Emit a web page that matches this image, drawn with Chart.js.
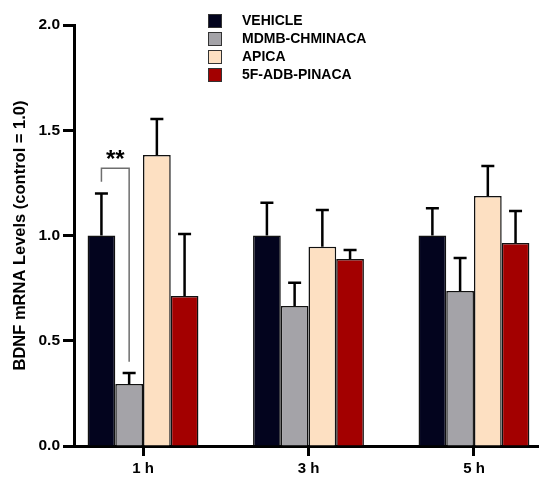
<!DOCTYPE html>
<html>
<head>
<meta charset="utf-8">
<script src="https://cdn.jsdelivr.net/npm/chart.js@4.4.0/dist/chart.umd.min.js"></script>
<style>
    html, body { margin: 0; padding: 0; background: #fff; }
    #wrap { width: 539px; height: 477px; position: relative; }
</style>
</head>
<body>
<div id="wrap"><canvas id="bdnfChart"></canvas></div>
<script>
const timePoints = ['1 h', '3 h', '5 h'];
const groupNames = ['VEHICLE', 'MDMB-CHMINACA', 'APICA', '5F-ADB-PINACA'];

const vehicleMean = [1.0, 1.0, 1.0];
const vehicleSem = [0.20, 0.155, 0.13];
const mdmbMean = [0.295, 0.665, 0.736];
const mdmbSem = [0.052, 0.11, 0.157];
const apicaMean = [1.382, 0.946, 1.188];
const apicaSem = [0.171, 0.175, 0.142];
const pinacaMean = [0.713, 0.888, 0.964];
const pinacaSem = [0.294, 0.043, 0.152];

const yTicks = [0, 0.5, 1.0, 1.5, 2.0];

// ** bracket between VEHICLE and MDMB-CHMINACA at 1 h (y values in data units)
const sigLeftY = 1.255;
const sigTopY = 1.32;
const sigRightY = 0.40;
const sigLabel = '**';

const FONT = "Arial, 'Liberation Sans', sans-serif";

function toPoints(arr) {
    return arr.map((v, i) => ({ x: i, y: v }));
}

const errorBars = {
    id: 'errorBars',
    afterDatasetsDraw(chart) {
        const ctx = chart.ctx;
        const y = chart.scales.y;
        ctx.save();
        ctx.strokeStyle = '#000';
        ctx.lineWidth = 2.5;
        chart.data.datasets.forEach((ds, di) => {
            const meta = chart.getDatasetMeta(di);
            meta.data.forEach((bar, i) => {
                const top = y.getPixelForValue(ds.data[i].y + ds.sem[i]);
                ctx.beginPath();
                ctx.moveTo(bar.x, bar.y);
                ctx.lineTo(bar.x, top);
                ctx.moveTo(bar.x - 6.5, top);
                ctx.lineTo(bar.x + 6.5, top);
                ctx.stroke();
            });
        });
        ctx.restore();
    }
};

const sigBracket = {
    id: 'sigBracket',
    afterDatasetsDraw(chart) {
        const ctx = chart.ctx;
        const y = chart.scales.y;
        const x1 = chart.getDatasetMeta(0).data[0].x;
        const x2 = chart.getDatasetMeta(1).data[0].x;
        const yTop = y.getPixelForValue(sigTopY);
        ctx.save();
        ctx.strokeStyle = '#6e6e6e';
        ctx.lineWidth = 1.5;
        ctx.beginPath();
        ctx.moveTo(x1, y.getPixelForValue(sigLeftY));
        ctx.lineTo(x1, yTop);
        ctx.lineTo(x2, yTop);
        ctx.lineTo(x2, y.getPixelForValue(sigRightY));
        ctx.stroke();
        ctx.fillStyle = '#000';
        ctx.font = 'bold 24px ' + FONT;
        ctx.textAlign = 'center';
        ctx.textBaseline = 'alphabetic';
        ctx.fillText(sigLabel, (x1 + x2) / 2, yTop - 1);
        ctx.restore();
    }
};

const boxLegend = {
    id: 'boxLegend',
    afterDraw(chart) {
        const ctx = chart.ctx;
        ctx.save();
        ctx.font = 'bold 14px ' + FONT;
        ctx.textBaseline = 'middle';
        ctx.textAlign = 'left';
        chart.data.datasets.forEach((ds, i) => {
            const top = 14 + i * 18;
            ctx.fillStyle = ds.backgroundColor;
            ctx.fillRect(208, top, 14, 14);
            ctx.strokeStyle = '#333';
            ctx.lineWidth = 1;
            ctx.strokeRect(208.5, top + 0.5, 13, 13);
            ctx.fillStyle = '#000';
            ctx.fillText(ds.label, 242, top + 7.5);
        });
        ctx.restore();
    }
};

function makeDataset(i, means, sems, color) {
    return {
        label: groupNames[i],
        data: toPoints(means),
        sem: sems,
        backgroundColor: color,
        borderColor: '#111',
        borderWidth: 1.5,
        borderSkipped: 'start',
        categoryPercentage: 0.67,
        barPercentage: 1.0
    };
}

new Chart(document.getElementById('bdnfChart'), {
    type: 'bar',
    data: {
        datasets: [
            makeDataset(0, vehicleMean, vehicleSem, '#03041e'),
            makeDataset(1, mdmbMean, mdmbSem, '#a4a3a8'),
            makeDataset(2, apicaMean, apicaSem, '#fde0c2'),
            makeDataset(3, pinacaMean, pinacaSem, '#a30000')
        ]
    },
    options: {
        responsive: true,
        maintainAspectRatio: false,
        animation: false,
        layout: { padding: { top: 25, right: 0, left: 0, bottom: 0 } },
        plugins: {
            legend: { display: false },
            tooltip: { enabled: false }
        },
        scales: {
            x: {
                type: 'linear',
                offset: false,
                min: -0.417,
                max: 2.393,
                afterBuildTicks: s => { s.ticks = timePoints.map((t, i) => ({ value: i })); },
                afterFit: s => { s.height = 31; },
                ticks: {
                    callback: (v) => timePoints[v],
                    color: '#000',
                    font: { family: FONT, size: 15, weight: 'bold' },
                    padding: 4,
                    maxRotation: 0
                },
                grid: {
                    offset: false,
                    drawOnChartArea: false,
                    drawTicks: true,
                    tickLength: 10,
                    tickWidth: 3,
                    tickColor: '#000'
                },
                border: { color: '#000', width: 3 }
            },
            y: {
                min: 0,
                max: 2,
                afterBuildTicks: s => { s.ticks = yTicks.map(v => ({ value: v })); },
                afterFit: s => { s.width = 74; },
                ticks: {
                    callback: v => v.toFixed(1),
                    color: '#000',
                    font: { family: FONT, size: 15.5, weight: 'bold' },
                    padding: 3
                },
                grid: {
                    drawOnChartArea: false,
                    drawTicks: true,
                    tickLength: 11,
                    tickWidth: 3,
                    tickColor: '#000'
                },
                border: { color: '#000', width: 3 },
                title: {
                    display: true,
                    text: 'BDNF mRNA Levels (control = 1.0)',
                    color: '#000',
                    font: { family: FONT, size: 16.5, weight: 'bold' },
                    padding: { top: 11, bottom: 0 }
                }
            }
        }
    },
    plugins: [errorBars, sigBracket, boxLegend]
});
</script>
</body>
</html>
